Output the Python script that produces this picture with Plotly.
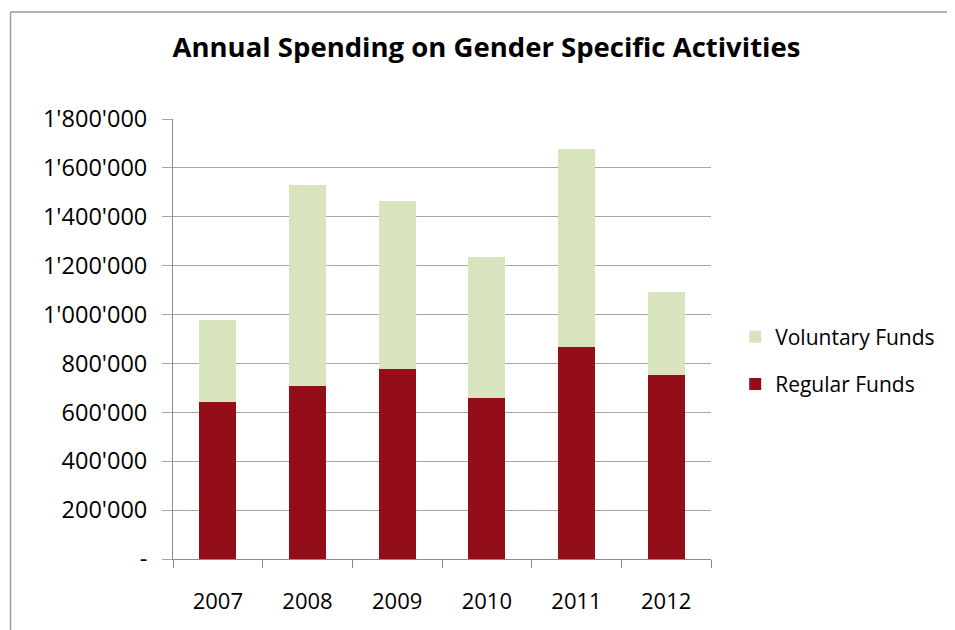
import plotly.graph_objects as go

years = ["2007", "2008", "2009", "2010", "2011", "2012"]
regular_funds = [642000, 707000, 776000, 658000, 866000, 751000]
voluntary_funds = [335000, 823000, 690000, 577000, 811000, 340000]
y_tickvals = [0, 200000, 400000, 600000, 800000, 1000000, 1200000, 1400000, 1600000, 1800000]
y_ticktext = ["-", "200'000", "400'000", "600'000", "800'000", "1'000'000",
              "1'200'000", "1'400'000", "1'600'000", "1'800'000"]

FONT = "Open Sans, Lato, sans-serif"

fig = go.Figure()
fig.add_trace(go.Bar(x=years, y=regular_funds, name="Regular Funds",
                     marker=dict(color="#940E19", line=dict(width=0)),
                     legendgroup="r", legendrank=2))
fig.add_trace(go.Bar(x=years, y=voluntary_funds, name="Voluntary Funds",
                     marker=dict(color="#D8E4BD", line=dict(width=0)),
                     legendgroup="v", legendrank=1))

frame = dict(color="#9A9A9A", width=1.5)
fig.update_layout(
    width=955, height=630,
    margin=dict(l=165, r=252, t=111, b=79),
    paper_bgcolor="white", plot_bgcolor="white",
    barmode="stack", bargap=0.59,
    font=dict(family=FONT, size=22, color="black"),
    title=dict(text="<b>Annual Spending on Gender Specific Activities</b>",
               x=0.501, xanchor="center", y=0.937, yanchor="middle",
               font=dict(family=FONT, size=27.5, color="black")),
    legend=dict(x=1.045, xanchor="left", y=0.451, yanchor="middle",
                traceorder="grouped", tracegroupgap=17,
                font=dict(family=FONT, size=21, color="black")),
    xaxis=dict(type="category", showgrid=False, showline=True, linecolor="#8C8C8C",
               linewidth=1, ticks="outside", tickson="boundaries", ticklen=8,
               tickcolor="#8C8C8C", ticklabelstandoff=23),
    yaxis=dict(range=[0, 1800000], tickvals=y_tickvals, ticktext=y_ticktext,
               showgrid=True, gridcolor="#A6A6A6", gridwidth=1,
               showline=True, linecolor="#8C8C8C", linewidth=1,
               ticks="outside", ticklen=10, tickcolor="#A6A6A6",
               ticklabelstandoff=10, zeroline=False,
               tickfont=dict(family=FONT, size=23.5, color="black")),
    shapes=[
        dict(type="line", xref="paper", yref="paper",
             x0=-0.302, x1=2.0, y0=1.243, y1=1.243, line=frame, layer="below"),
        dict(type="line", xref="paper", yref="paper",
             x0=-0.302, x1=-0.302, y0=-0.5, y1=1.243, line=frame, layer="below"),
    ],
)

fig.write_html("out.html")
